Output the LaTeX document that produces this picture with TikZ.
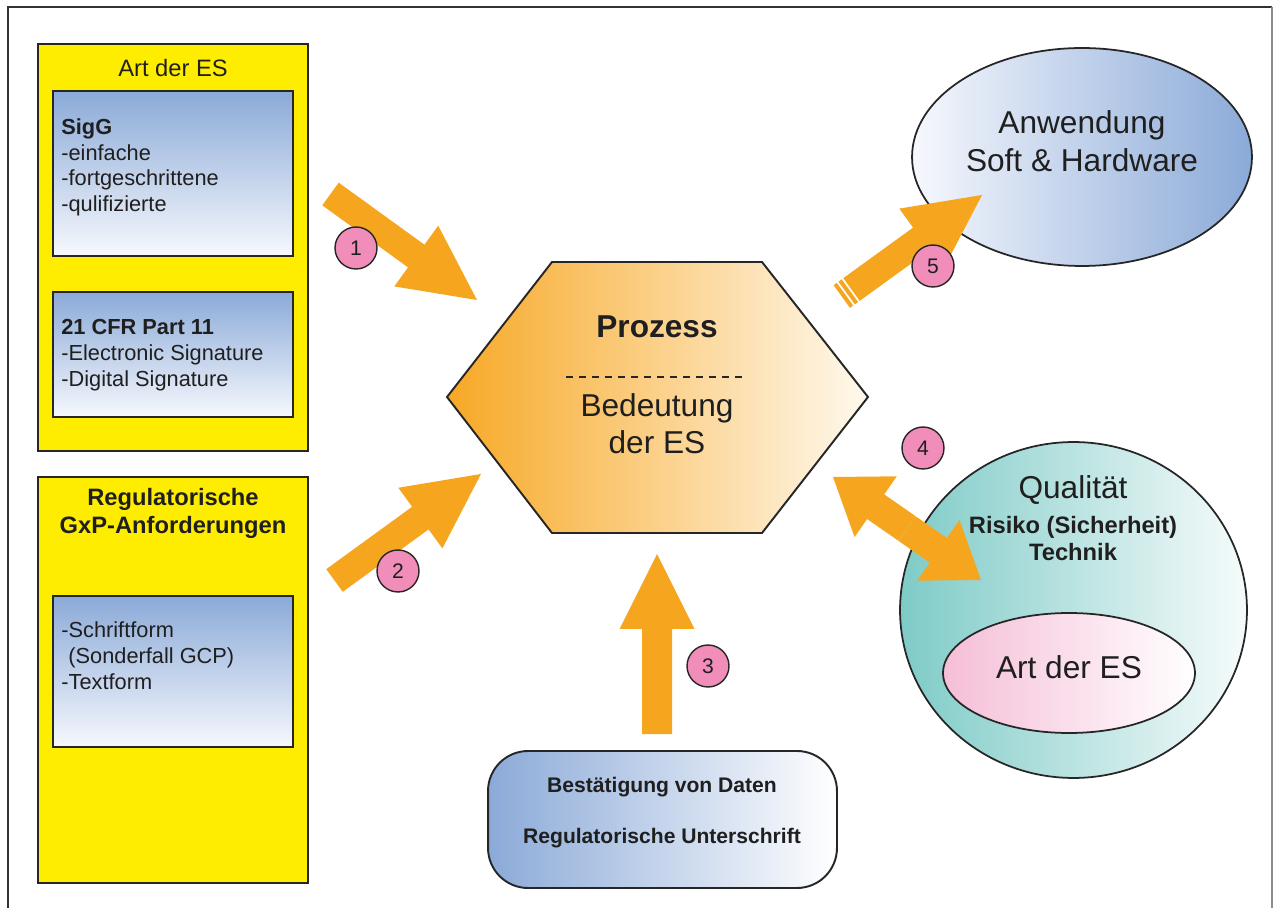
\documentclass[tikz,border=0pt]{standalone}
\usepackage{fontspec}
\setmainfont{Liberation Sans}
\usetikzlibrary{calc,shapes.geometric}

\definecolor{esyellow}{RGB}{255,237,0}
\definecolor{esblue}{RGB}{139,170,216}
\definecolor{esbluelight}{RGB}{246,248,253}
\definecolor{arroworange}{RGB}{246,166,30}
\definecolor{hexorange}{RGB}{247,168,37}
\definecolor{hexcream}{RGB}{255,249,238}
\definecolor{numpink}{RGB}{241,141,185}
\definecolor{qualteal}{RGB}{126,203,199}
\definecolor{qualwhite}{RGB}{246,251,251}
\definecolor{artpink}{RGB}{245,190,215}

% block arrow: tail, tip, half shaft, half head, head length
\newcommand{\blockarr}[5]{%
  \coordinate (hb) at ($(#2)!#5!(#1)$);
  \fill[arrowfill] ($(#1)!#3!90:(#2)$) -- ($(hb)!#3!90:(#2)$) -- ($(hb)!#4!90:(#2)$) -- (#2)
    -- ($(hb)!#4!-90:(#2)$) -- ($(hb)!#3!-90:(#2)$) -- ($(#1)!#3!-90:(#2)$) -- cycle;}

\begin{document}
\begin{tikzpicture}[x=0.02cm,y=-0.02cm]
    \tikzstyle{every node}=[inner sep=0pt, text=black!88]
    \tikzstyle{yellowbox}=[rectangle, draw=black!85, line width=1.1pt, fill=esyellow, minimum width=5.4cm]
    \tikzstyle{bluebox}=[rectangle, draw=black!85, line width=1.1pt, top color=esblue, bottom color=esbluelight, minimum width=4.8cm]
    \tikzstyle{plain}=[font=\fontsize{12.4}{14.74}\selectfont, align=left, anchor=north west]
    \tikzstyle{heading}=[font=\fontsize{13.5}{16.4}\selectfont\bfseries, align=center]
    \tikzstyle{big}=[font=\fontsize{18}{21.3}\selectfont, align=center]
    \tikzstyle{num}=[circle, draw=black!85, line width=0.8pt, fill=numpink, minimum size=0.84cm, font=\fontsize{12}{14}\selectfont]
    \tikzstyle{arrowfill}=[fill=arroworange]

    \useasboundingbox (0,0) rectangle (1275,908);
    \draw[black!80, line width=1.1pt] (8,912) -- (8,7) -- (1272,7);
    \draw[black!45, line width=0.6pt] (1272,7) -- (1272,912);

    \node[yellowbox, minimum height=8.14cm] (artbox) at (173,247.5) {};
    \node[font=\fontsize{13.5}{16.4}\selectfont] (arttitle) at (173,68) {Art der ES};
    \node[bluebox, minimum height=3.3cm] (sigbox) at (173,173.5) {};
    \node[plain] (sigtext) at (61,118) {\textbf{SigG}\\-einfache\\-fortgeschrittene\\-qulifizierte};
    \node[bluebox, minimum height=2.5cm] (cfrbox) at (173,354.5) {};
    \node[plain] (cfrtext) at (61,319) {\textbf{21 CFR Part 11}\\-Electronic Signature\\-Digital Signature};

    \node[yellowbox, minimum height=8.12cm] (regbox) at (173,680) {};
    \node[heading] (regtitle) at (173,513.5) {Regulatorische\\GxP-Anforderungen};
    \node[bluebox, minimum height=3.02cm] (formbox) at (173,671.5) {};
    \node[plain] (formtext) at (61,621.5) {-Schriftform\\\hspace{4pt}(Sonderfall GCP)\\-Textform};

    \shade[left color=hexorange, right color=hexcream, draw=black!85, line width=1.1pt]
        (447,397) -- (552,262) -- (762,262) -- (868,397) -- (762,533) -- (552,533) -- cycle;
    \node[font=\fontsize{18}{21.3}\selectfont\bfseries] (proc) at (657,327) {Prozess};
    \draw[black!85, line width=0.9pt, dash pattern=on 4.14pt off 3.26pt] (566,377) -- (743,377);
    \node[big, font=\fontsize{18}{21}\selectfont] (bed) at (657,423.5) {Bedeutung\\der ES};

    \node[ellipse, draw=black!85, line width=1pt, left color=esbluelight, right color=esblue,
        minimum width=6.8cm, minimum height=4.36cm] (app) at (1082,157) {};
    \node[big, font=\fontsize{18}{21.5}\selectfont] (apptext) at (1082,141) {Anwendung\\Soft \& Hardware};

    \node[ellipse, draw=black!85, line width=1pt, left color=qualteal, right color=qualwhite,
        minimum width=6.94cm, minimum height=6.72cm] (qual) at (1073.5,610) {};
    \node[big] (qualtext) at (1073,490) {Qualität};
    \node[heading, font=\fontsize{13.5}{15.3}\selectfont\bfseries] (risk) at (1073,538.5) {Risiko (Sicherheit)\\Technik};
    \node[ellipse, draw=black!85, line width=1pt, left color=artpink, right color=white,
        minimum width=5.04cm, minimum height=2.4cm] (artes) at (1069,673) {};
    \node[big] (artestext) at (1069,667) {Art der ES};

    \node[rectangle, rounded corners=0.8cm, draw=black!85, line width=1.1pt, left color=esblue, right color=white,
        minimum width=6.98cm, minimum height=2.74cm] (conf) at (662.5,819.5) {};
    \node[font=\fontsize{12}{28.9}\selectfont\bfseries, align=center] (conftext) at (662,812.5)
        {Bestätigung von Daten\\Regulatorische Unterschrift};

    \coordinate (a1s) at (330.5,194);
    \coordinate (a1e) at (477,300);
    \coordinate (a2s) at (334.5,580.5);
    \coordinate (a2e) at (481,474);
    \coordinate (a3s) at (657,734);
    \coordinate (a3e) at (657,554);
    \coordinate (a4m) at (907,528.5);
    \coordinate (a4a) at (833,477);
    \coordinate (a4b) at (981,580);
    \coordinate (a5s) at (851.5,289.5);
    \coordinate (a5e) at (982,195);

    \blockarr{a1s}{a1e}{0.28cm}{0.75cm}{1.5cm}
    \blockarr{a2s}{a2e}{0.28cm}{0.75cm}{1.5cm}
    \blockarr{a3s}{a3e}{0.3cm}{0.75cm}{1.5cm}
    \blockarr{a4m}{a4a}{0.3cm}{0.74cm}{1.04cm}
    \blockarr{a4m}{a4b}{0.3cm}{0.74cm}{1.04cm}
    \blockarr{a5s}{a5e}{0.28cm}{0.75cm}{1.5cm}

    \coordinate (s1) at ($(a5s)!-0.08cm!(a5e)$);
    \coordinate (s2) at ($(a5s)!-0.2cm!(a5e)$);
    \draw[arroworange, line width=0.08cm] ($(s1)!0.28cm!90:(a5e)$) -- ($(s1)!0.28cm!-90:(a5e)$);
    \draw[arroworange, line width=0.08cm] ($(s2)!0.28cm!90:(a5e)$) -- ($(s2)!0.28cm!-90:(a5e)$);

    \node[num] (n1) at (356,248) {1};
    \node[num] (n2) at (398,571) {2};
    \node[num] (n3) at (708,666) {3};
    \node[num] (n4) at (923,448) {4};
    \node[num] (n5) at (933,266) {5};
\end{tikzpicture}
\end{document}
